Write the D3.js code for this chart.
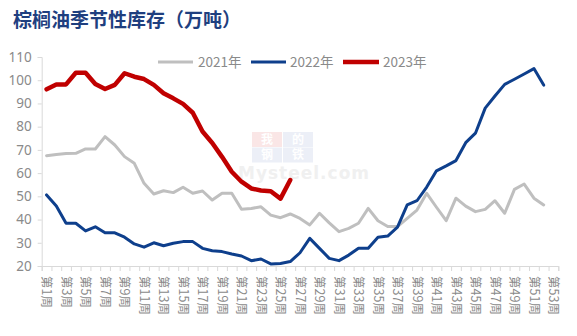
<!DOCTYPE html>
<html><head><meta charset="utf-8">
<script src="https://cdn.jsdelivr.net/npm/d3@7/dist/d3.min.js"></script>
<style>
html,body{margin:0;padding:0;background:#fff;}
svg{display:block;font-family:"Microsoft YaHei","Noto Sans CJK SC","Noto Sans",sans-serif;}
</style></head>
<body>
<svg id="chart" width="577" height="336"></svg>
<script>
const title = "棕榈油季节性库存（万吨）";
const weeks = d3.range(1, 54);
const weekLabels = weeks.map(w => "第" + w + "周");
const seriesNames = ["2021年", "2022年", "2023年"];
const yTicks = [20, 30, 40, 50, 60, 70, 80, 90, 100, 110];

const v2021 = [67.5, 68, 68.4, 68.5, 70.4, 70.4, 75.7, 72.1, 67.1, 64.2, 55.6, 51, 52.4, 51.6, 53.9, 51.3, 52.3, 48.4, 51.3, 51.3,
  44.4, 44.8, 45.5, 41.9, 40.8, 42.4, 40.5, 37.7, 42.7, 38.6, 34.8, 36.2, 38.4, 44.8, 39.5, 37, 37, 40.5, 44.1, 51.3,
  45.3, 39.5, 49.2, 45.8, 43.4, 44.4, 48.1, 42.7, 53, 55.3, 49.2, 46.3];
const v2022 = [50.6, 45.8, 38.4, 38.4, 35.1, 36.9, 34.3, 34.3, 32.4, 29.5, 28.1, 30, 28.7, 29.8, 30.5, 30.5, 27.6, 26.6, 26.2, 25.2,
  24.3, 22.3, 23, 20.9, 21.1, 21.9, 25.7, 31.9, 27.6, 23.3, 22.3, 24.7, 27.6, 27.6, 32.4, 32.9, 36.7, 46.3, 48.1, 54,
  61, 63.1, 65.4, 73.1, 77.2, 88, 93.2, 98.2, 100.4, 102.7, 105, 97.9];
const v2023 = [96.1, 98.2, 98.2, 103.2, 103.2, 98.4, 96.2, 98, 103, 101.5, 100.5, 98, 94.4, 92.2, 89.8, 86, 77.9, 73, 67, 60.6,
  56.3, 53.4, 52.5, 52.2, 49, 57];

const colors = ["#BFBFBF", "#0E3F8C", "#C00000"];
const widths = [3, 3, 4.5];
const values = [v2021, v2022, v2023];

const svg = d3.select("#chart");
const mLeft = 41.7, mRight = 558.3, mTop = 57, mBottom = 266;

const x = d3.scaleBand().domain(weeks).range([mLeft, mRight]).padding(0);
const xb = d3.scaleLinear().domain([0.5, 53.5]).range([mLeft, mRight]);
const y = d3.scaleLinear().domain([20, 110]).range([mBottom, mTop]);

// title
svg.append("text").attr("x", 13).attr("y", 27)
  .attr("font-size", 19).attr("font-weight", "bold").attr("fill", "#1F3F7F")
  .attr("font-family", "'Noto Sans CJK SC',sans-serif")
  .text(title);

// watermark
const wm = svg.append("g").attr("opacity", 0.35);
const wmBoxes = [
  {t: "我", c: "#F2B8B8", col: 0, row: 0},
  {t: "的", c: "#C9D3EA", col: 1, row: 0},
  {t: "钢", c: "#C9D3EA", col: 0, row: 1},
  {t: "铁", c: "#C9D3EA", col: 1, row: 1}
];
wmBoxes.forEach(b => {
  wm.append("rect").attr("x", 252 + b.col * 31).attr("y", 132 + b.row * 15.5)
    .attr("width", 30).attr("height", 15).attr("fill", b.c);
  wm.append("text").attr("x", 267 + b.col * 31).attr("y", 143.5 + b.row * 15.5)
    .attr("text-anchor", "middle").attr("font-size", 12).attr("font-weight", "bold")
    .attr("fill", "#fff").text(b.t);
});
svg.append("text").attr("x", 304).attr("y", 179).attr("text-anchor", "middle")
  .attr("font-size", 17).attr("font-weight", "bold").attr("fill", "#F0F0F0")
  .attr("font-family", "'DejaVu Sans',sans-serif").attr("letter-spacing", 1)
  .text("Mysteel.com");

// y axis
const yAxis = svg.append("g").attr("transform", `translate(${mLeft},0)`)
  .call(d3.axisLeft(y).tickValues(yTicks).tickSize(4).tickPadding(6));
yAxis.select(".domain").attr("stroke", "#D9D9D9");
yAxis.selectAll(".tick line").attr("stroke", "#D9D9D9");
yAxis.selectAll(".tick text").attr("fill", "#8A8A8A").attr("font-size", 13.5)
  .attr("font-family", "'Noto Sans',sans-serif");

// x axis ticks at boundaries
const xAxis = svg.append("g").attr("transform", `translate(0,${mBottom})`)
  .call(d3.axisBottom(xb).tickValues(d3.range(0.5, 54, 1)).tickSize(5).tickFormat(""));
xAxis.select(".domain").attr("stroke", "#D9D9D9");
xAxis.selectAll(".tick line").attr("stroke", "#D9D9D9");

// x labels (rotated)
svg.append("g").selectAll("text").data(weeks.filter(w => w % 2 === 1)).join("text")
  .attr("transform", d => `translate(${x(d) + x.bandwidth() / 2},${mBottom + 10}) rotate(90)`)
  .attr("dy", "0.35em").attr("font-size", 12.5).attr("fill", "#8A8A8A")
  .text(d => weekLabels[d - 1]);

// lines
const line = d3.line().x((d, i) => x(weeks[i]) + x.bandwidth() / 2).y(d => y(d));
values.forEach((vals, k) => {
  svg.append("path").datum(vals).attr("d", line)
    .attr("fill", "none").attr("stroke", colors[k]).attr("stroke-width", widths[k])
    .attr("stroke-linejoin", "round").attr("stroke-linecap", "round");
});

// legend
const legX = [[158, 193, 198], [251, 286, 290], [343, 379, 383]];
seriesNames.forEach((n, k) => {
  svg.append("line").attr("x1", legX[k][0]).attr("x2", legX[k][1]).attr("y1", 62).attr("y2", 62)
    .attr("stroke", colors[k]).attr("stroke-width", widths[k]);
  svg.append("text").attr("x", legX[k][2]).attr("y", 62).attr("dy", "0.35em")
    .attr("font-size", 13.5).attr("fill", "#8A8A8A").text(n);
});
</script>
</body></html>
